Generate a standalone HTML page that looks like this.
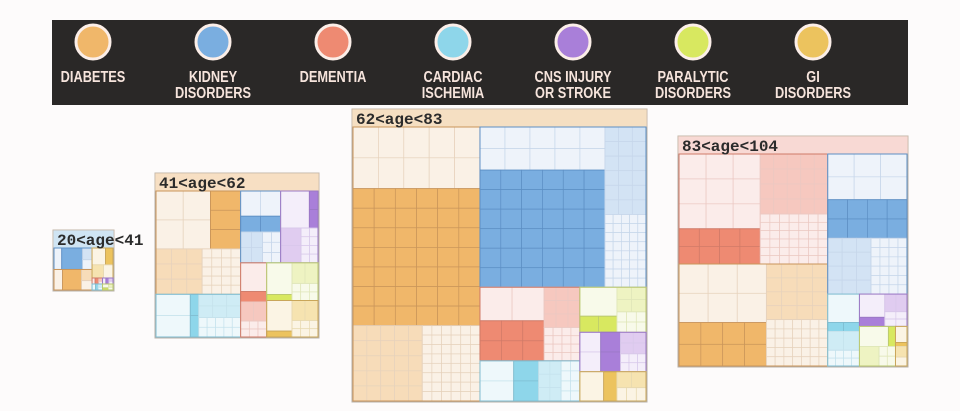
<!DOCTYPE html>
<html><head><meta charset="utf-8"><style>
html,body{margin:0;padding:0;background:#fdfbfb;}
#wrap{position:relative;width:960px;height:411px;overflow:hidden;}
svg{position:absolute;left:0;top:0;}
</style></head><body>
<div id="wrap">
<svg id="chart" width="960" height="411" xmlns="http://www.w3.org/2000/svg">
  <rect x="52" y="20" width="856" height="85" fill="#2a2827"/>
  <g id="legend"></g>
  <g id="panels"></g>
</svg>
</div>
<script>
// ---- data ----
const diseases = ['DIABETES','KIDNEY DISORDERS','DEMENTIA','CARDIAC ISCHEMIA','CNS INJURY OR STROKE','PARALYTIC DISORDERS','GI DISORDERS'];
const legendLine1 = ['DIABETES','KIDNEY','DEMENTIA','CARDIAC','CNS INJURY','PARALYTIC','GI'];
const legendLine2 = ['','DISORDERS','','ISCHEMIA','OR STROKE','DISORDERS','DISORDERS'];
const ageGroups = ['20<age<41','41<age<62','62<age<83','83<age<104'];
const values20 = [820, 858, 66, 66, 66, 66, 660];
const values41 = [8424, 2769, 1862, 3483, 2584, 1862, 1804];
const values62 = [36442, 27864, 7700, 4200, 2730, 3120, 2030];
const values83 = [15300, 11200, 16500, 2300, 1550, 1440, 460];
const severityShare = [0.5, 0.55, 0.35, 0.25, 0.3, 0.2, 0.2];
const ageSeverity = [1.0, 0.4, 1.0, 0.5];
// ---- style / layout (not data) ----
const darkC = ['#f0b76a','#7aaee0','#ee8a72','#8ed6ea','#a97fd9','#d8e860','#ecc35e'];
const midC  = ['#f7dcb9','#d3e3f4','#f6c8bf','#cfecf5','#e0ccf0','#eef3c2','#f6e3b0'];
const paleC = ['#faf1e6','#eef3fa','#fbecea','#eef8fb','#f4eefa','#f8faea','#fbf4e4'];
const lineC = ['#c9955a','#5d8fc4','#cf7a68','#7fbcd0','#9a78c4','#b9c770','#c9a65a'];
const paleLine = ['#e6d2bc','#c6d6ea','#ebc8c2','#c5e2ec','#d8c8ea','#dfe6b8','#e8d9b0'];
const panelBox = [[53,230,61,61],[155,173,164,165],[352,109,295,293],[678,136,230,231]];
const headerFill = ['#cfe4f3','#f7dfc3','#f5dfc2','#f8d9d4'];
const NS='http://www.w3.org/2000/svg';
function mk(tag, attrs, parent){const e=document.createElementNS(NS,tag);for(const k in attrs)e.setAttribute(k,attrs[k]);parent.appendChild(e);return e;}

// legend
const leg=document.getElementById('legend');
diseases.forEach((d,i)=>{
  const cx=93+i*120;
  const g=mk('g',{},leg);
  
  
  mk('circle',{cx:cx,cy:42,r:17,fill:darkC[i],stroke:'#fbeee8','stroke-width':3},g);
  [legendLine1[i],legendLine2[i]].forEach((s,k)=>{
    if(!s)return;
    const t=mk('text',{x:0,y:0,'text-anchor':'middle','font-family':'"Liberation Sans",sans-serif','font-weight':'bold','font-size':'16',fill:'#f6e4dc',transform:'translate('+cx+','+(82+k*16)+') scale(0.8,1)'},g);
    t.textContent=s;
  });
});

function layout(items,x,y,w,h,out){
  if(items.length===0)return;
  if(items.length===1){out.push({it:items[0],x,y,w,h});return;}
  const tot=items.reduce((s,a)=>s+a.v,0);
  let cum=0,best=1,bd=1e18;
  for(let k=1;k<items.length;k++){cum+=items[k-1].v;const d=Math.abs(cum-tot/2);if(d<bd){bd=d;best=k;}}
  const a=items.slice(0,best),b=items.slice(best);
  const sa=a.reduce((s,q)=>s+q.v,0)/tot;
  if(w>=h){layout(a,x,y,w*sa,h,out);layout(b,x+w*sa,y,w*(1-sa),h,out);}
  else{layout(a,x,y,w,h*sa,out);layout(b,x,y+h*sa,w,h*(1-sa),out);}
}
function grid(g,x,y,w,h,cell,fill,stroke,name){
  if(w<0.5||h<0.5)return;
  const cols=Math.max(1,Math.round(w/cell)),rows=Math.max(1,Math.round(h/cell));
  for(let r=0;r<rows;r++)for(let c=0;c<cols;c++){
    const e=mk('rect',{x:x+c*w/cols,y:y+r*h/rows,width:w/cols,height:h/rows,fill:fill,stroke:stroke,'stroke-width':0.7},g);
    
    
  }
}
const allValues=[values20,values41,values62,values83];
const panels=document.getElementById('panels');
ageGroups.forEach((ag,p)=>{
  const [px,py,pw,ph]=panelBox[p];
  const g=mk('g',{},panels);
  
  
  mk('rect',{x:px,y:py,width:pw,height:ph,fill:'#ffffff',stroke:'#b8b0a8','stroke-width':1},g);
  const hr=mk('rect',{x:px,y:py,width:pw,height:18,fill:headerFill[p],stroke:'#c8b8a8','stroke-width':0.8},g);
  
  
  const items=allValues[p].map((v,i)=>({v:v,i:i})).sort((a,b)=>b.v-a.v);
  const out=[];
  layout(items,px+1,py+18,pw-2,ph-19,out);
  const big=pw>100;
  out.forEach(r=>{
    const i=r.it.i;
    const dg=mk('g',{},g);
    
    
    const s=Math.min(0.85,severityShare[i]*ageSeverity[p]);
    const tiers=[
      {v:(1-s)*0.45,fill:paleC[i],cell:big?26:40,line:paleLine[i]},
      {v:s,fill:darkC[i],cell:big?21:40,line:lineC[i]},
      {v:(1-s)*0.3,fill:midC[i],cell:big?14:40,line:paleLine[i]},
      {v:(1-s)*0.25,fill:paleC[i],cell:big?9:40,line:paleLine[i]}
    ];
    const tout=[];
    layout(tiers.map(t=>({v:t.v,t:t})),r.x,r.y,r.w,r.h,tout);
    tout.forEach(q=>{
      grid(dg,q.x,q.y,q.w,q.h,q.it.t.cell,q.it.t.fill,q.it.t.line,'sub-cell');
      mk('rect',{x:q.x,y:q.y,width:q.w,height:q.h,fill:'none',stroke:q.it.t.line,'stroke-width':0.8},dg);
    });
    mk('rect',{x:r.x,y:r.y,width:r.w,height:r.h,fill:'none',stroke:lineC[i],'stroke-width':1},dg);
  });
  const t=mk('text',{x:px+4,y:py+15,'font-family':'"Liberation Mono",monospace','font-weight':'bold','font-size':'16',fill:'#2b2b2b'},g);
  
  
  t.textContent=ag;
});
</script>
</body></html>
